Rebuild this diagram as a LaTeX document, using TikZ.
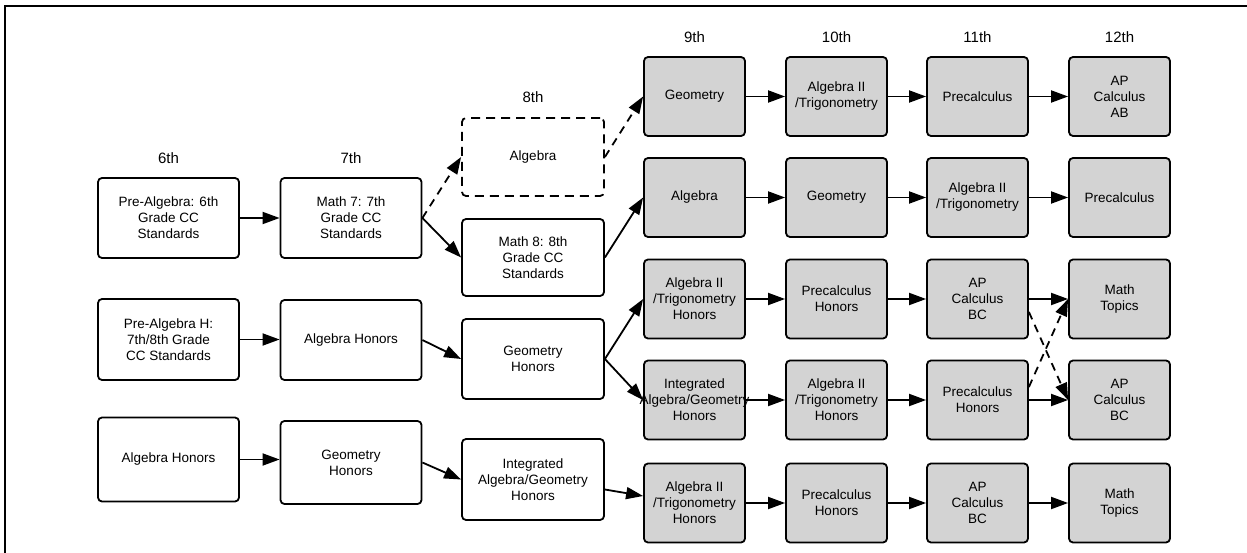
\documentclass[tikz,border=0pt]{standalone}
\usepackage{fontspec}
\setmainfont{Liberation Sans}
\usetikzlibrary{arrows.meta,calc}
\definecolor{boxgray}{RGB}{211,211,211}
\begin{document}
\begin{tikzpicture}[x=1pt,y=-1pt,
  lbox/.style={draw, line width=1.8pt, rounded corners=4pt, minimum width=141pt, minimum height=80pt, align=center, inner sep=0pt, font=\fontsize{13.5}{16}\selectfont},
  rbox/.style={lbox, fill=boxgray, minimum width=101pt, minimum height=79pt},
  dbox/.style={lbox, dash pattern=on 9pt off 6pt},
  grade/.style={font=\fontsize{15}{18}\selectfont, inner sep=0pt},
  arr/.style={line width=1.8pt, -{Triangle[length=17pt,width=12pt]}},
  darr/.style={arr, dash pattern=on 8pt off 6pt}
]
\useasboundingbox (0,0) rectangle (1247,553);
\draw[line width=2pt] (5,553) -- (5,6) -- (1247,6);

% grade labels
\node[grade] (g6) at (168.5,158) {6th};
\node[grade] (g7) at (351,158) {7th};
\node[grade] (g8) at (533,97) {8th};
\node[grade] (g9) at (694.5,37) {9th};
\node[grade] (g10) at (836.5,37) {10th};
\node[grade] (g11) at (977.5,37) {11th};
\node[grade] (g12) at (1119.5,37) {12th};

% left columns
\node[lbox] (P6) at (168.5,218) {Pre-Algebra: 6th\\Grade CC\\Standards};
\node[lbox] (M7) at (351,218) {Math 7: 7th\\Grade CC\\Standards};
\node[dbox, minimum width=142pt, minimum height=78pt] (A8) at (533,157) {Algebra};
\node[lbox, minimum width=142pt, minimum height=77pt] (M8) at (533,257.5) {Math 8: 8th\\Grade CC\\Standards};

\node[lbox, minimum height=81pt] (PH6) at (168.5,339.5) {Pre-Algebra H:\\7th/8th Grade\\CC Standards};
\node[lbox] (AH7) at (351,340) {Algebra Honors};
\node[lbox, minimum width=142pt] (GH8) at (533,359) {Geometry\\Honors};

\node[lbox, minimum height=84pt] (AH6) at (168.5,459.5) {Algebra Honors};
\node[lbox, minimum height=83pt] (GH7) at (351,462.5) {Geometry\\Honors};
\node[lbox, minimum width=142pt, minimum height=81pt] (I8) at (533,479.5) {Integrated\\Algebra/Geometry\\Honors};

% right columns
\node[rbox] (A9) at (694.5,96.5) {Geometry};
\node[rbox] (A10) at (836.5,96.5) {Algebra II\\/Trigonometry};
\node[rbox] (A11) at (977.5,96.5) {Precalculus};
\node[rbox] (A12) at (1119.5,96.5) {AP\\Calculus\\AB};

\node[rbox] (B9) at (694.5,197.5) {Algebra};
\node[rbox] (B10) at (836.5,197.5) {Geometry};
\node[rbox] (B11) at (977.5,197.5) {Algebra II\\/Trigonometry};
\node[rbox] (B12) at (1119.5,197.5) {Precalculus};

\node[rbox] (C9) at (694.5,299) {Algebra II\\/Trigonometry\\Honors};
\node[rbox] (C10) at (836.5,299) {Precalculus\\Honors};
\node[rbox] (C11) at (977.5,299) {AP\\Calculus\\BC};
\node[rbox] (C12) at (1119.5,299) {Math\\Topics};

\node[rbox, label={[align=center, inner sep=0pt, font=\fontsize{13.5}{16}\selectfont]center:Integrated\\Algebra/Geometry\\Honors}] (D9) at (694.5,400) {};
\node[rbox] (D10) at (836.5,400) {Algebra II\\/Trigonometry\\Honors};
\node[rbox] (D11) at (977.5,400) {Precalculus\\Honors};
\node[rbox] (D12) at (1119.5,400) {AP\\Calculus\\BC};

\node[rbox] (E9) at (694.5,503) {Algebra II\\/Trigonometry\\Honors};
\node[rbox] (E10) at (836.5,503) {Precalculus\\Honors};
\node[rbox] (E11) at (977.5,503) {AP\\Calculus\\BC};
\node[rbox] (E12) at (1119.5,503) {Math\\Topics};

% left connectors
\draw[arr] (P6.east) -- (M7.west);
\draw[darr] (M7.east) -- (A8.west);
\draw[arr] (M7.east) -- (M8.west);
\draw[darr] (A8.east) -- (A9.west);
\draw[arr] (M8.east) -- (B9.west);

\draw[arr] (PH6.east) -- (PH6.east -| AH7.west);
\draw[arr] (AH7.east) -- (GH8.west);
\draw[arr] (GH8.east) -- (C9.west);
\draw[arr] (GH8.east) -- (D9.west);

\draw[arr] (AH6.east) -- (AH6.east -| GH7.west);
\draw[arr] (GH7.east) -- (I8.west);
\draw[arr] ($(I8.east)+(0,10)$) -- ($(E9.west)+(0,-7)$);

% right connectors
\foreach \r in {A,B,C,D,E}{
  \draw[arr] (\r9.east) -- (\r10.west);
  \draw[arr] (\r10.east) -- (\r11.west);
  \draw[arr] (\r11.east) -- (\r12.west);
}
\draw[darr] ($(C11.east)+(0,13)$) -- (D12.west);
\draw[darr] ($(D11.east)+(0,-13)$) -- (C12.west);
\end{tikzpicture}
\end{document}
